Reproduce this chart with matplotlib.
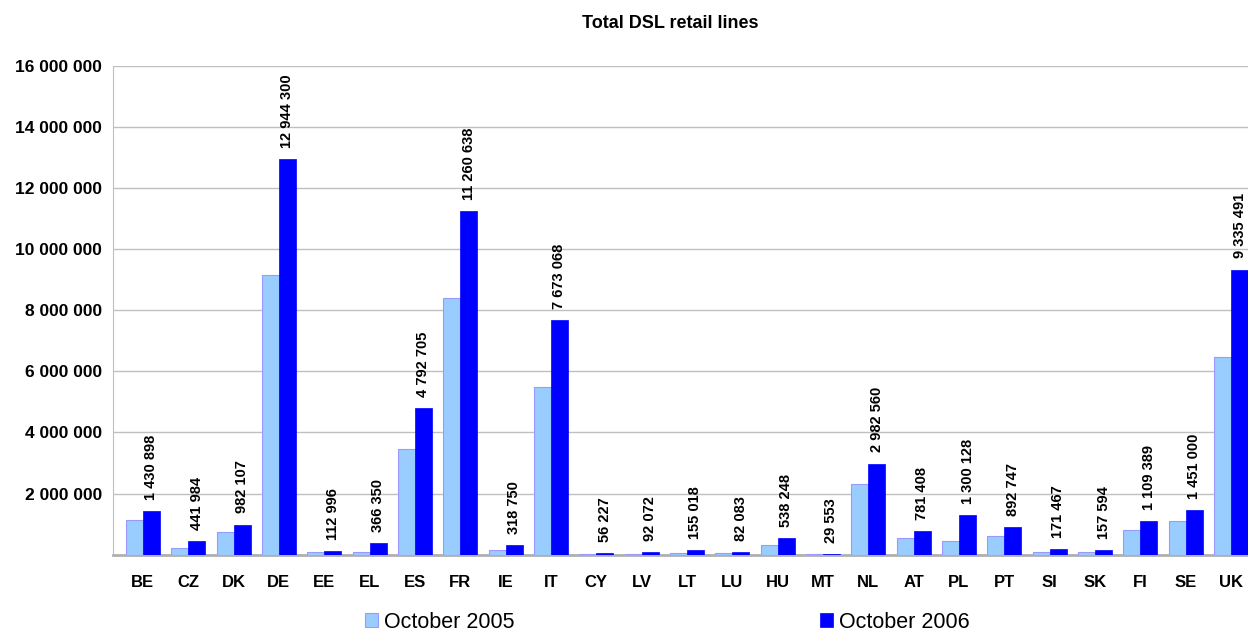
import numpy as np
import matplotlib
matplotlib.use("Agg")
import matplotlib.pyplot as plt
from matplotlib.ticker import FuncFormatter

plt.rcParams['font.family'] = ['Liberation Sans', 'DejaVu Sans']

countries = ['BE', 'CZ', 'DK', 'DE', 'EE', 'EL', 'ES', 'FR', 'IE', 'IT', 'CY', 'LV', 'LT',
             'LU', 'HU', 'MT', 'NL', 'AT', 'PL', 'PT', 'SI', 'SK', 'FI', 'SE', 'UK']
# October 2005
oct_2005 = [1140000, 220000, 740000, 9150000, 70000, 90000, 3470000, 8390000, 150000,
            5490000, 20000, 30000, 60000, 40000, 330000, 10000, 2320000, 550000, 430000,
            620000, 100000, 70000, 820000, 1110000, 6460000]
# October 2006 (labelled)
oct_2006 = [1430898, 441984, 982107, 12944300, 112996, 366350, 4792705, 11260638, 318750,
            7673068, 56227, 92072, 155018, 82083, 538248, 29553, 2982560, 781408, 1300128,
            892747, 171467, 157594, 1109389, 1451000, 9335491]


def spaced(v):
    return f"{int(v):,}".replace(",", " ")


fig = plt.figure(figsize=(12.48, 6.36), dpi=100)
ax = fig.add_axes([113 / 1248, 1 - 554.6 / 636, 1140.7 / 1248, (554.6 - 66) / 636])

x = np.arange(len(countries))
w = 0.375
ax.bar(x - w / 2, oct_2005, w, color='#99CCFF', edgecolor='#9999FF', linewidth=0.8,
       label='October 2005', zorder=3)
ax.bar(x + w / 2, oct_2006, w, color='#0000FF', edgecolor='#0000FF', linewidth=0.5,
       label='October 2006', zorder=3)

for xi, v in zip(x, oct_2006):
    ax.annotate(spaced(v), (xi + w / 2, v), xytext=(0, 8), textcoords='offset points',
                rotation=90, ha='center', va='bottom', fontsize=10.5, fontweight='bold')

ax.set_xlim(-0.66, 24.5)
ax.set_ylim(0, 16000000)
ax.set_yticks(np.arange(0, 16000001, 2000000))
ax.yaxis.set_major_formatter(FuncFormatter(lambda v, p: '' if v == 0 else spaced(v)))
ax.set_xticks(x)
ax.set_xticklabels(countries, fontweight='bold', fontsize=12)
ax.tick_params(axis='x', length=0, pad=15)
ax.tick_params(axis='y', length=0, pad=8, labelsize=12.5)
for lab in ax.get_yticklabels():
    lab.set_fontweight('bold')

ax.grid(axis='y', color='#C0C0C0', linewidth=1, zorder=0)
for s in ['top', 'right']:
    ax.spines[s].set_visible(False)
ax.spines['left'].set_color('#C0C0C0')
ax.spines['bottom'].set_color('#B0B0B0')
ax.spines['bottom'].set_linewidth(2)

fig.text(670 / 1248, 1 - 24 / 636, 'Total DSL retail lines', ha='center', va='center',
         fontsize=13, fontweight='bold')

fig.legend(loc='center', bbox_to_anchor=(667 / 1248, 1 - 622 / 636), ncol=2, frameon=False,
           fontsize=15.5, handlelength=0.62, handleheight=0.62, handletextpad=0.25,
           columnspacing=14.2, borderpad=0)

fig.savefig('out.png', dpi=100)
